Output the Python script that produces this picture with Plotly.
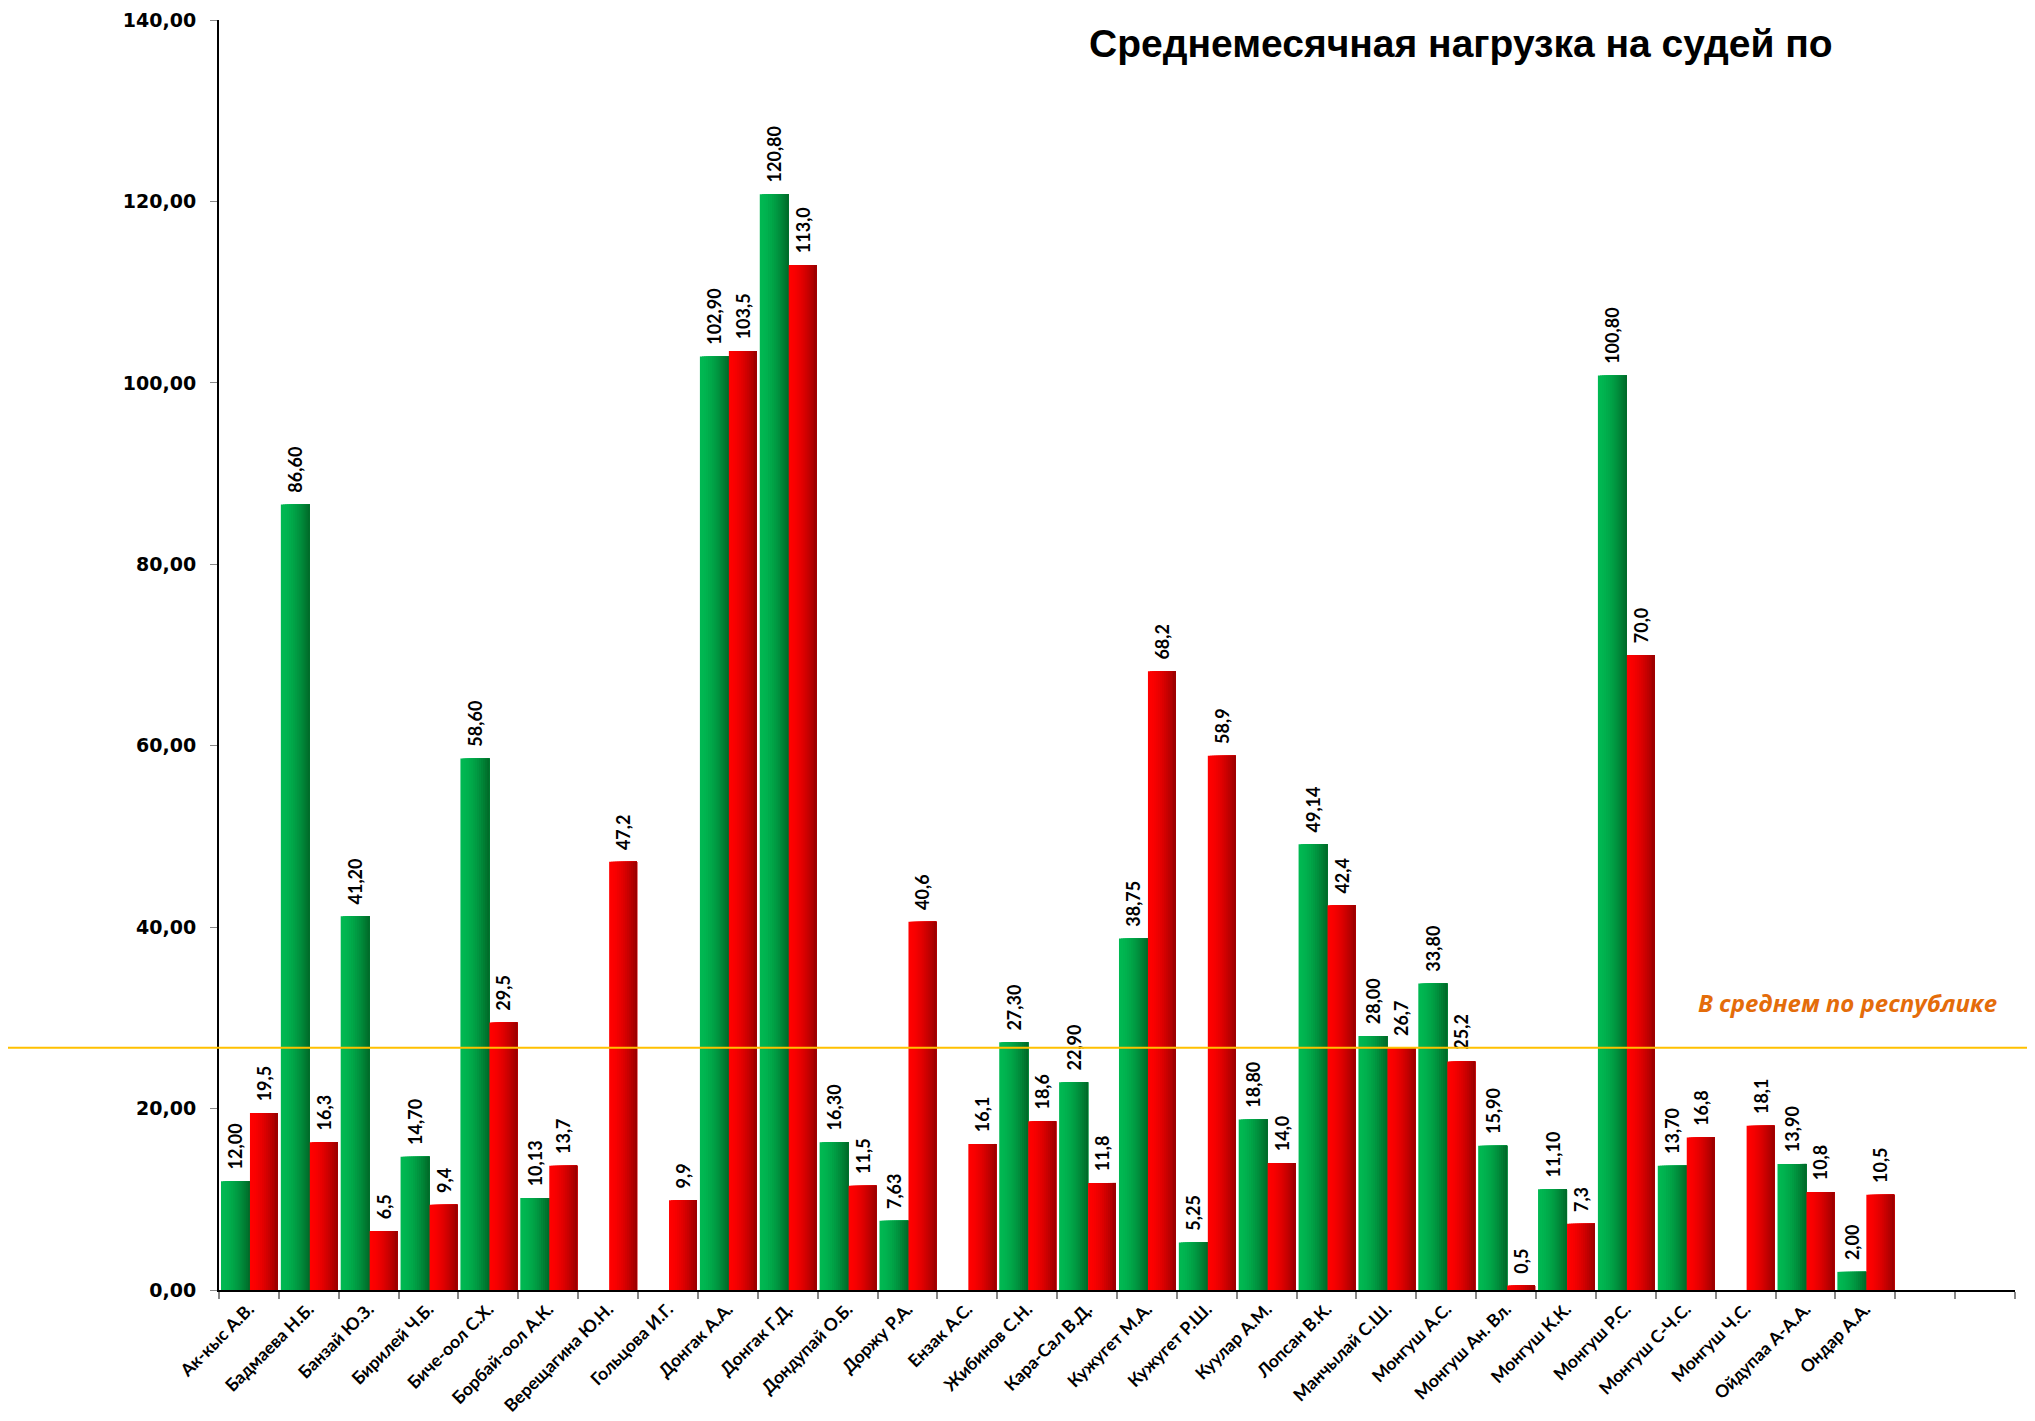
import plotly.graph_objects as go

categories = ["Ак-кыс А.В.", "Бадмаева Н.Б.", "Банзай Ю.З.", "Бирилей Ч.Б.", "Биче-оол С.Х.",
              "Борбай-оол А.К.", "Верещагина Ю.Н.", "Гольцова И.Г.", "Донгак А.А.", "Донгак Г.Д.",
              "Дондупай О.Б.", "Доржу Р.А.", "Ензак А.С.", "Жибинов С.Н.", "Кара-Сал В.Д.",
              "Кужугет М.А.", "Кужугет Р.Ш.", "Куулар А.М.", "Лопсан В.К.", "Манчылай С.Ш.",
              "Монгуш А.С.", "Монгуш Ан. Вл.", "Монгуш К.К.", "Монгуш Р.С.", "Монгуш С-Ч.С.",
              "Монгуш Ч.С.", "Ойдупаа А-А.А.", "Ондар А.А.", "\u00a0", "\u00a0\u00a0"]

green_values = [12.00, 86.60, 41.20, 14.70, 58.60, 10.13, None, None, 102.90, 120.80,
                16.30, 7.63, None, 27.30, 22.90, 38.75, 5.25, 18.80, 49.14, 28.00,
                33.80, 15.90, 11.10, 100.80, 13.70, None, 13.90, 2.00, None, None]

red_values = [19.5, 16.3, 6.5, 9.4, 29.5, 13.7, 47.2, 9.9, 103.5, 113.0,
              11.5, 40.6, 16.1, 18.6, 11.8, 68.2, 58.9, 14.0, 42.4, 26.7,
              25.2, 0.5, 7.3, 70.0, 16.8, 18.1, 10.8, 10.5, None, None]

average_value = 26.7
title_text = "Среднемесячная нагрузка на судей по"
average_text = "В среднем по республике"


def fmt(v, nd):
    if v is None:
        return ""
    return "\u00a0\u00a0" + f"{v:.{nd}f}".replace(".", ",")


def mix(c1, c2, t):
    return "rgb(%d,%d,%d)" % tuple(round(a + (b - a) * t) for a, b in zip(c1, c2))


fig = go.Figure()

K = 14
series = [
    (green_values, -0.467, 0.484, (0, 184, 82), (0, 108, 42), 2),
    (red_values, 0.017, 0.466, (255, 0, 0), (158, 0, 0), 1),
]
for vals, off, w, c1, c2, nd in series:
    for k in range(K):
        t = k / (K - 1)
        tt = t ** 1.6
        trace = dict(
            x=categories, y=vals,
            offset=off + k * w / K, width=w - k * w / K,
            marker=dict(color=mix(c1, c2, tt), line=dict(width=0)),
            showlegend=False, hoverinfo="skip", cliponaxis=False,
        )
        if k == 0:
            trace.update(
                text=[fmt(v, nd) for v in vals],
                textposition="outside", textangle=-90, constraintext="none",
                outsidetextfont=dict(family="Lato", size=18, color="black", weight="bold"),
            )
        fig.add_trace(go.Bar(**trace))

fig.add_shape(type="line", xref="paper", yref="y", x0=-0.118, x1=1.02,
              y0=average_value, y1=average_value,
              line=dict(color="#ffc000", width=2))

fig.add_annotation(text=average_text, xref="paper", yref="y", x=0.9065, y=average_value,
                   yshift=45, showarrow=False, xanchor="center", yanchor="middle",
                   font=dict(family="Open Sans", size=24, color="#e46c0a", weight="bold", style="italic"))

fig.add_annotation(text=title_text, xref="paper", yref="paper", x=0.6915, y=0.9815,
                   showarrow=False, xanchor="center", yanchor="middle",
                   font=dict(family="Liberation Sans", size=39, color="black", weight="bold"))

fig.update_layout(
    width=2027, height=1413,
    margin=dict(l=211, r=20, t=12, b=131, pad=0, autoexpand=False),
    plot_bgcolor="white", paper_bgcolor="white",
    barmode="overlay", separators=", ",
    showlegend=False,
)
fig.update_xaxes(
    type="category", categoryorder="array", categoryarray=categories,
    range=[-0.5, 29.5], showgrid=False, zeroline=False, automargin=False,
    showline=True, linecolor="black", linewidth=2,
    ticks="outside", tickson="boundaries", ticklen=7, tickcolor="#888888", tickwidth=2,
    tickangle=-45, tickfont=dict(family="Lato", size=17.5, color="black", weight="bold"),
)
fig.update_yaxes(
    range=[0, 140], dtick=20, tickformat=".2f", showgrid=False, zeroline=False, automargin=False,
    showline=True, linecolor="black", linewidth=2,
    ticks="outside", ticklen=7, tickcolor="#888888", tickwidth=1, ticklabelstandoff=10,
    tickfont=dict(family="DejaVu Sans", size=19, color="black", weight="bold"),
)

fig.write_html("out.html")
